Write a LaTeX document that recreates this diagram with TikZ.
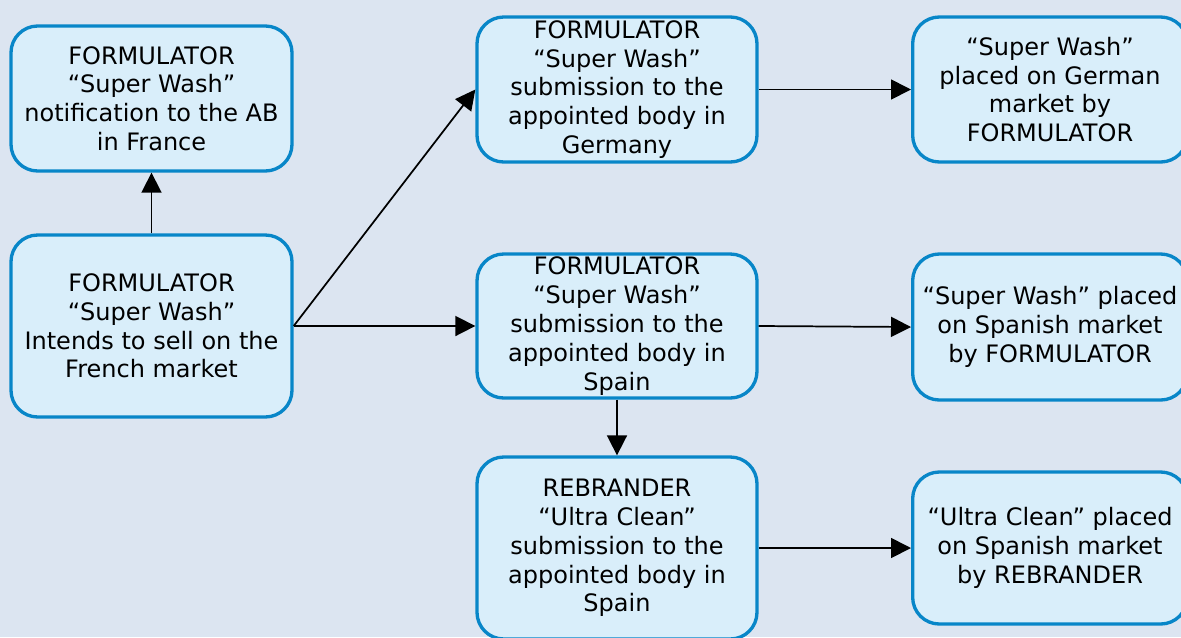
\documentclass[tikz,border=0pt]{standalone}
\usepackage{fontspec}
\setmainfont{DejaVu Sans}
\usetikzlibrary{arrows.meta}
\definecolor{bgcol}{RGB}{220,229,241}
\definecolor{fillcol}{RGB}{217,238,250}
\definecolor{bordercol}{RGB}{8,134,200}
\tikzset{
  box/.style={draw=bordercol, fill=fillcol, line width=2.5pt, rounded corners=20pt,
    align=center, inner sep=0pt, font=\fontsize{18}{21.6}\selectfont},
  arr/.style={line width=1.3pt, -{Triangle[length=15pt,width=15pt]}}
}
\begin{document}
\begin{tikzpicture}[x=0.75pt,y=-0.75pt]
\fill[bgcol] (0,0) rectangle (1181,637);
\useasboundingbox (0,0) rectangle (1181,637);
\clip (0,0) rectangle (1181,637);
\node[box, minimum width=210.75pt, minimum height=108.75pt] (A) at (151.5,98.5)
  {FORMULATOR\\“Super Wash”\\notification to the AB\\in France};
\node[box, minimum width=210.75pt, minimum height=136.5pt] (B) at (151.5,326)
  {FORMULATOR\\“Super Wash”\\Intends to sell on the\\French market};
\node[box, minimum width=210pt, minimum height=108.75pt] (C) at (617,89.5)
  {FORMULATOR\\“Super Wash”\\submission to the\\appointed body in\\Germany};
\node[box, minimum width=210pt, minimum height=108pt] (D) at (617,326)
  {FORMULATOR\\“Super Wash”\\submission to the\\appointed body in\\Spain};
\node[box, minimum width=210pt, minimum height=136.5pt] (E) at (617,548)
  {REBRANDER\\“Ultra Clean”\\submission to the\\appointed body in\\Spain};
\node[box, minimum width=206pt, minimum height=108.75pt] (F) at (1050,89.5)
  {“Super Wash”\\placed on German\\market by\\FORMULATOR};
\node[box, minimum width=206pt, minimum height=109.5pt] (G) at (1050,327)
  {“Super Wash” placed\\on Spanish market\\by FORMULATOR};
\node[box, minimum width=206pt, minimum height=114pt] (H) at (1050,548)
  {“Ultra Clean” placed\\on Spanish market\\by REBRANDER};
\draw[arr] (B.north) -- (A.south);
\draw[arr] (B.east) -- (C.west);
\draw[arr] (B.east) -- (D.west);
\draw[arr] (C.east) -- (F.west);
\draw[arr] (D.east) -- (G.west);
\draw[arr] (D.south) -- (E.north);
\draw[arr] (E.east) -- (H.west);
\end{tikzpicture}
\end{document}
